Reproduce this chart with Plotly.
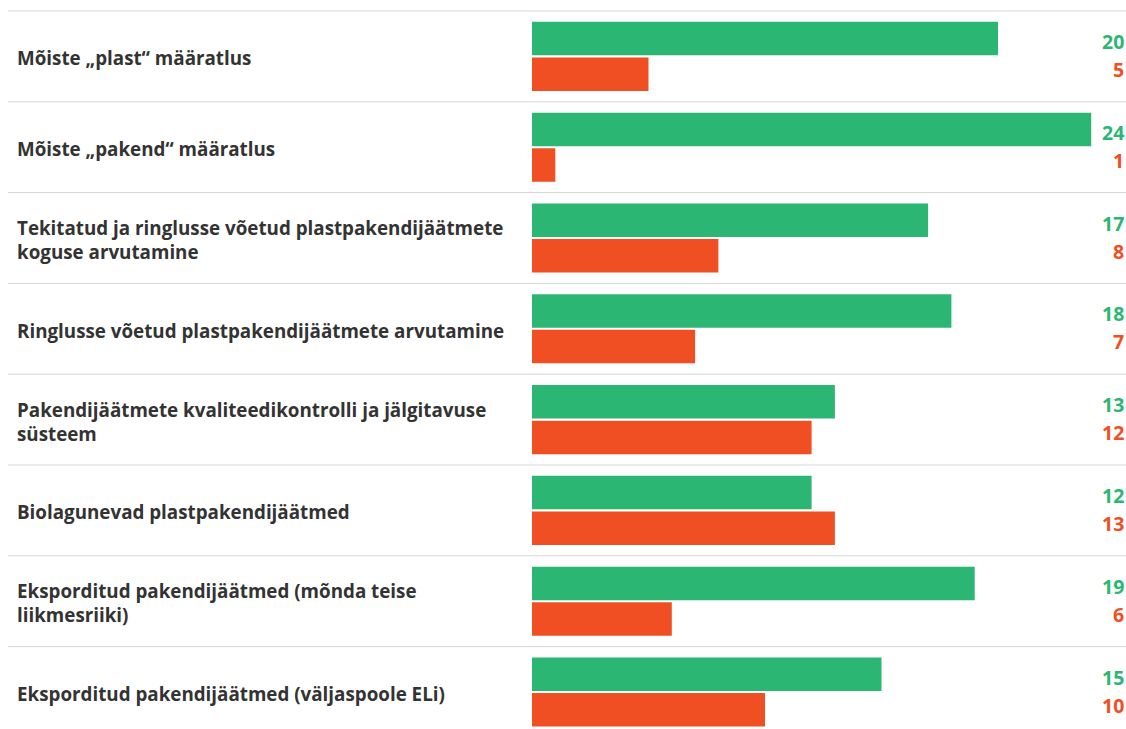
import plotly.graph_objects as go

categories = [
    "Mõiste „plast“ määratlus",
    "Mõiste „pakend“ määratlus",
    "Tekitatud ja ringlusse võetud plastpakendijäätmete<br>koguse arvutamine",
    "Ringlusse võetud plastpakendijäätmete arvutamine",
    "Pakendijäätmete kvaliteedikontrolli ja jälgitavuse<br>süsteem",
    "Biolagunevad plastpakendijäätmed",
    "Eksporditud pakendijäätmed (mõnda teise<br>liikmesriiki)",
    "Eksporditud pakendijäätmed (väljaspoole ELi)",
]
green_values = [20, 24, 17, 18, 13, 12, 19, 15]
red_values = [5, 1, 8, 7, 12, 13, 6, 10]

GREEN = "#2bb673"
RED = "#f04e23"
TEXT = "#333333"
FONT = "Open Sans"

ids = list(range(len(categories)))

fig = go.Figure()
fig.add_trace(go.Bar(y=ids, x=green_values, orientation="h",
                     marker=dict(color=GREEN, line=dict(width=0)), name="green",
                     hoverinfo="skip"))
fig.add_trace(go.Bar(y=ids, x=red_values, orientation="h",
                     marker=dict(color=RED, line=dict(width=0)), name="red",
                     hoverinfo="skip"))

W, H = 1126, 729
x0_px = 532
px_per_unit = 23.3
row_h = 90.8
top_px = 11

x_min = -x0_px / px_per_unit
x_max = (W - x0_px) / px_per_unit
y_top = -0.5 - top_px / row_h
y_bot = -0.5 + (H - top_px) / row_h

annotations = []
for i, (cat, g, r) in enumerate(zip(categories, green_values, red_values)):
    annotations.append(dict(x=15 / W, xref="paper", y=i, yref="y", text=cat,
                            xanchor="left", yanchor="middle", align="left",
                            showarrow=False, yshift=-2,
                            font=dict(family=FONT, size=18.8, color=TEXT, weight="bold")))
    annotations.append(dict(x=1, xref="paper", y=i, yref="y", text=str(g),
                            xanchor="right", yanchor="middle", showarrow=False,
                            xshift=0, yshift=15,
                            font=dict(family=FONT, size=19.5, color=GREEN, weight="bold")))
    annotations.append(dict(x=1, xref="paper", y=i, yref="y", text=str(r),
                            xanchor="right", yanchor="middle", showarrow=False,
                            xshift=0, yshift=-13,
                            font=dict(family=FONT, size=19.5, color=RED, weight="bold")))

shapes = []
for i in range(len(categories)):
    shapes.append(dict(type="line", xref="paper", yref="y", x0=8 / W, x1=1,
                       y0=i - 0.5, y1=i - 0.5,
                       line=dict(color="#d6d6d6", width=1)))

fig.update_layout(
    width=W, height=H,
    margin=dict(l=0, r=0, t=0, b=0),
    paper_bgcolor="white", plot_bgcolor="white",
    barmode="group", bargap=0.215, bargroupgap=0.06,
    showlegend=False,
    xaxis=dict(range=[x_min, x_max], visible=False, fixedrange=True),
    yaxis=dict(range=[y_bot, y_top], visible=False, fixedrange=True),
    annotations=annotations,
    shapes=shapes,
)

fig.write_html("out.html", config={"displayModeBar": False},
               post_script="document.body.style.margin='0';document.body.style.overflow='hidden';")
